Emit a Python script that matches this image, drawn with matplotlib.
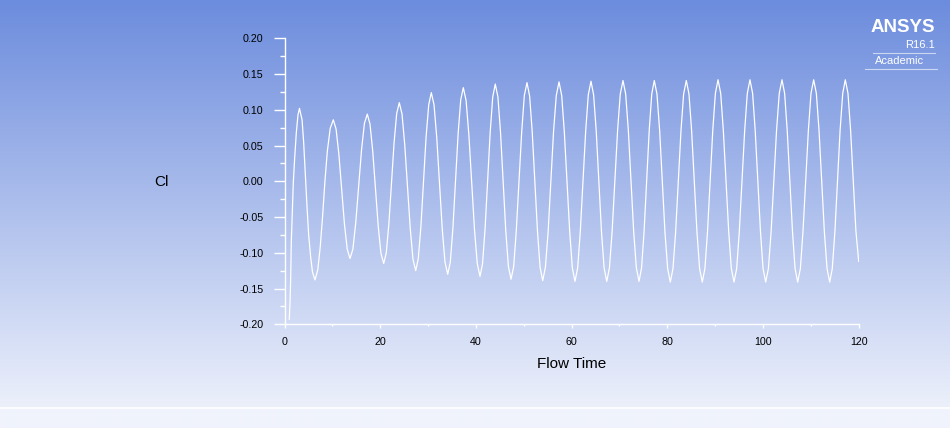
import numpy as np
import matplotlib
matplotlib.use("Agg")
import matplotlib.pyplot as plt
from matplotlib.ticker import MultipleLocator, FormatStrFormatter

plt.rcParams['font.family'] = ['Liberation Sans', 'DejaVu Sans']
plt.rcParams['axes.unicode_minus'] = False

# ---- DATA ----
flow_time = [
    1.00, 1.15, 1.30, 1.42, 1.63, 1.84, 2.13, 2.47, 2.82, 3.13,
    3.67, 4.00, 4.35, 4.70, 5.05, 5.45, 5.85, 6.37,
    6.95, 7.45, 7.95, 8.45, 8.95, 9.55, 10.20,
    10.78, 11.36, 11.95, 12.53, 13.11, 13.69,
    14.29, 14.89, 15.50, 16.10, 16.70, 17.30,
    17.87, 18.44, 19.02, 19.59, 20.16, 20.73,
    21.27, 21.82, 22.36, 22.90, 23.45, 23.99,
    24.56, 25.13, 25.71, 26.28, 26.85, 27.42,
    27.96, 28.51, 29.05, 29.59, 30.14, 30.68,
    31.25, 31.82, 32.40, 32.97, 33.54, 34.11,
    34.65, 35.20, 35.74, 36.28, 36.83, 37.37,
    37.95, 38.53, 39.12, 39.70, 40.28, 40.86,
    41.39, 41.92, 42.46, 42.99, 43.52, 44.05,
    44.60, 45.15, 45.70, 46.24, 46.79, 47.34,
    47.90, 48.45, 49.01, 49.57, 50.12, 50.68,
    51.23, 51.77, 52.32, 52.87, 53.41, 53.96,
    54.53, 55.10, 55.67, 56.23, 56.80, 57.37,
    57.93, 58.48, 59.04, 59.60, 60.15, 60.71,
    61.27, 61.82, 62.38, 62.94, 63.49, 64.05,
    64.60, 65.15, 65.70, 66.24, 66.79, 67.34,
    67.91, 68.47, 69.04, 69.61, 70.17, 70.74,
    71.30, 71.86, 72.42, 72.97, 73.53, 74.09,
    74.62, 75.15, 75.69, 76.22, 76.75, 77.28,
    77.84, 78.40, 78.96, 79.51, 80.07, 80.63,
    81.19, 81.74, 82.30, 82.86, 83.41, 83.97,
    84.53, 85.08, 85.64, 86.20, 86.75, 87.31,
    87.86, 88.41, 88.96, 89.50, 90.05, 90.60,
    91.16, 91.71, 92.27, 92.83, 93.38, 93.94,
    94.50, 95.05, 95.61, 96.17, 96.72, 97.28,
    97.83, 98.37, 98.92, 99.47, 100.01, 100.56,
    101.13, 101.70, 102.27, 102.83, 103.40, 103.97,
    104.52, 105.06, 105.61, 106.16, 106.70, 107.25,
    107.81, 108.36, 108.92, 109.48, 110.03, 110.59,
    111.15, 111.71, 112.27, 112.82, 113.38, 113.94,
    114.48, 115.03, 115.57, 116.11, 116.66, 117.20,
    117.76, 118.31, 118.87, 119.42, 120.00,
]
cl = [
    -0.193, -0.170, -0.133, -0.085, -0.043, -0.002, 0.033, 0.068, 0.093, 0.102,
    0.086, 0.055, 0.010, -0.035, -0.075, -0.105, -0.127, -0.138,
    -0.124, -0.093, -0.050, 0.000, 0.042, 0.074, 0.086,
    0.073, 0.038, -0.011, -0.060, -0.095, -0.108,
    -0.095, -0.058, -0.007, 0.044, 0.081, 0.094,
    0.080, 0.042, -0.011, -0.063, -0.101, -0.115,
    -0.100, -0.059, -0.003, 0.054, 0.095, 0.110,
    0.094, 0.051, -0.008, -0.066, -0.109, -0.125,
    -0.108, -0.063, -0.001, 0.062, 0.107, 0.124,
    0.107, 0.061, -0.003, -0.067, -0.113, -0.130,
    -0.113, -0.065, 0.001, 0.066, 0.114, 0.131,
    0.113, 0.065, -0.001, -0.067, -0.115, -0.133,
    -0.115, -0.066, 0.002, 0.069, 0.118, 0.136,
    0.118, 0.068, -0.001, -0.069, -0.119, -0.137,
    -0.119, -0.068, 0.001, 0.069, 0.120, 0.138,
    0.119, 0.069, -0.001, -0.070, -0.120, -0.139,
    -0.120, -0.070, 0.000, 0.070, 0.120, 0.139,
    0.120, 0.069, -0.001, -0.070, -0.121, -0.140,
    -0.121, -0.070, 0.000, 0.070, 0.121, 0.140,
    0.121, 0.070, 0.000, -0.070, -0.121, -0.140,
    -0.121, -0.070, 0.001, 0.071, 0.122, 0.141,
    0.122, 0.071, 0.001, -0.070, -0.121, -0.140,
    -0.121, -0.070, 0.001, 0.071, 0.122, 0.141,
    0.122, 0.071, 0.000, -0.071, -0.122, -0.141,
    -0.122, -0.071, 0.000, 0.071, 0.122, 0.141,
    0.122, 0.071, 0.000, -0.071, -0.122, -0.141,
    -0.122, -0.070, 0.001, 0.071, 0.123, 0.142,
    0.123, 0.071, 0.001, -0.070, -0.122, -0.141,
    -0.122, -0.070, 0.001, 0.071, 0.123, 0.142,
    0.123, 0.071, 0.001, -0.070, -0.122, -0.141,
    -0.122, -0.070, 0.001, 0.071, 0.123, 0.142,
    0.123, 0.071, 0.001, -0.070, -0.122, -0.141,
    -0.122, -0.070, 0.001, 0.071, 0.123, 0.142,
    0.123, 0.071, 0.001, -0.070, -0.122, -0.141,
    -0.122, -0.070, 0.001, 0.071, 0.123, 0.142,
    0.123, 0.071, 0.001, -0.070, -0.112,
]
x_ticks = [0, 20, 40, 60, 80, 100, 120]
y_ticks = [-0.20, -0.15, -0.10, -0.05, 0.00, 0.05, 0.10, 0.15, 0.20]

# ---- FIGURE + GRADIENT BACKGROUND ----
fig = plt.figure(figsize=(9.5, 4.28), dpi=100)

bg = fig.add_axes([0, 0, 1, 1], zorder=0)
bg.set_axis_off()
rows = 428
top_c = np.array([108, 140, 221]) / 255
bot_c = np.array([236, 240, 251]) / 255
low_c = np.array([240, 243, 252]) / 255
grad = np.zeros((rows, 2, 3))
for r in range(rows):
    if r < 407:
        f = r / 407
        grad[r, :, :] = top_c * (1 - f) + bot_c * f
    else:
        grad[r, :, :] = low_c
bg.imshow(grad, aspect='auto', extent=[0, 1, 0, 1])
bg.set_xlim(0, 1)
bg.set_ylim(0, 1)
bg.axhline(1 - 407.5 / 428, color='white', lw=1.2)

# ANSYS logo
bg.text(935 / 950, 1 - 27 / 428, "ANSYS", color='white', fontsize=13.5,
        fontweight='bold', ha='right', va='center')
bg.text(935 / 950, 1 - 45 / 428, "R16.1", color='white', fontsize=8,
        ha='right', va='center')
bg.plot([873 / 950, 935 / 950], [1 - 52.5 / 428] * 2, color='white', lw=0.8, alpha=0.6)
bg.text(900 / 950, 1 - 61 / 428, "Academic", color='white', fontsize=8,
        ha='center', va='center')
bg.plot([865 / 950, 937 / 950], [1 - 68.5 / 428] * 2, color='white', lw=0.8, alpha=0.6)

# ---- PLOT ----
ax = fig.add_axes([284.5 / 950, 103.7 / 428, 574.2 / 950, 286 / 428], zorder=1)
ax.patch.set_visible(False)
ax.plot(flow_time, cl, color='white', lw=0.9)

ax.set_xlim(0, 120)
ax.set_ylim(-0.20, 0.20)
ax.set_xticks(x_ticks)
ax.set_yticks(y_ticks)
ax.xaxis.set_minor_locator(MultipleLocator(10))
ax.yaxis.set_minor_locator(MultipleLocator(0.025))
ax.yaxis.set_major_formatter(FormatStrFormatter('%.2f'))

for side in ['top', 'right']:
    ax.spines[side].set_visible(False)
for side in ['left', 'bottom']:
    ax.spines[side].set_color('white')
    ax.spines[side].set_linewidth(1.0)

ax.tick_params(axis='y', which='major', direction='out', length=8, width=1,
               color='white', labelsize=7.7, pad=7)
ax.tick_params(axis='y', which='minor', direction='out', length=3.6, width=1,
               color='white')
ax.tick_params(axis='x', which='major', direction='out', length=3, width=1,
               color='white', labelsize=7.7, pad=6.5)
ax.tick_params(axis='x', which='minor', direction='out', length=1.5, width=1,
               color='white')

ax.set_xlabel("Flow Time", fontsize=11, labelpad=6.5)
ax.set_ylabel("Cl", fontsize=11, rotation=0, ha='center', va='center')
ax.yaxis.set_label_coords(-0.2139, 0.4965)

plt.savefig("out.png", dpi=100)
